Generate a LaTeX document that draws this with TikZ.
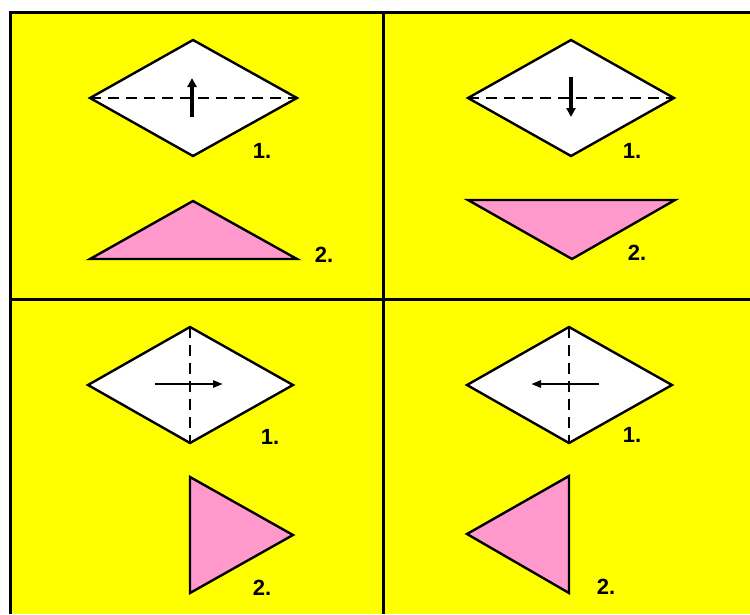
\documentclass[tikz,border=0pt]{standalone}
\usepackage{fontspec}
\setmainfont{Liberation Sans}
\usepackage{tikz}
\usetikzlibrary{arrows.meta}
\definecolor{bgyellow}{RGB}{255,255,0}
\definecolor{foldpink}{RGB}{255,153,204}
\tikzset{
frameline/.style={line width=3pt},
paper/.style={draw,fill=white,line width=2.4pt,line join=miter},
flap/.style={draw,fill=foldpink,line width=2.4pt,line join=miter},
foldline/.style={line width=2pt,dash pattern=on 11pt off 7pt},
bigarrow/.style={-{Triangle[length=9pt,width=9pt]},line width=3.8pt},
smallarrow/.style={-{Triangle[length=10pt,width=7pt]},line width=2.5pt},
steplabel/.style={font=\fontsize{22}{22}\selectfont\bfseries,inner sep=0pt}
}

\begin{document}
\begin{tikzpicture}[x=1pt,y=-1pt]
\useasboundingbox (0,0) rectangle (750,614);
% background and grid
\fill[bgyellow] (10,12) rectangle (750,614);
\draw[frameline] (750,12) -- (10,12) -- (10,614);
\draw[frameline] (383,12) -- (383,614);
\draw[frameline] (10,299) -- (750,299);

% top left: fold up
\coordinate (tlN) at (193,40);
\coordinate (tlW) at (90,98);
\coordinate (tlE) at (297,98);
\coordinate (tlS) at (193,156);
\draw[paper] (tlN) -- (tlE) -- (tlS) -- (tlW) -- cycle;
\draw[foldline] (tlW) -- (tlE);
\coordinate (tlA) at (192,117);
\coordinate (tlB) at (192,78);
\draw[bigarrow] (tlA) -- (tlB);
\node[steplabel] (tl1) at (262,151) {1.};
\draw[flap] (193,201) -- (297,259) -- (90,259) -- cycle;
\node[steplabel] (tl2) at (324,255) {2.};

% top right: fold down
\coordinate (trN) at (571,40);
\coordinate (trW) at (468,98);
\coordinate (trE) at (674,98);
\coordinate (trS) at (571,156);
\draw[paper] (trN) -- (trE) -- (trS) -- (trW) -- cycle;
\draw[foldline] (trW) -- (trE);
\coordinate (trA) at (571,77);
\coordinate (trB) at (571,117);
\draw[bigarrow] (trA) -- (trB);
\node[steplabel] (tr1) at (632,151) {1.};
\draw[flap] (468,200) -- (675,200) -- (572,259) -- cycle;
\node[steplabel] (tr2) at (637,253) {2.};

% bottom left: fold right
\coordinate (blN) at (190,327);
\coordinate (blW) at (88,385);
\coordinate (blE) at (293,385);
\coordinate (blS) at (190,443);
\draw[paper] (blN) -- (blE) -- (blS) -- (blW) -- cycle;
\draw[foldline] (blN) -- (blS);
\coordinate (blA) at (155,384);
\coordinate (blB) at (223,384);
\draw[smallarrow] (blA) -- (blB);
\node[steplabel] (bl1) at (270,437) {1.};
\draw[flap] (190,477) -- (293,535) -- (190,593) -- cycle;
\node[steplabel] (bl2) at (262,588) {2.};

% bottom right: fold left
\coordinate (brN) at (569,327);
\coordinate (brW) at (467,385);
\coordinate (brE) at (672,385);
\coordinate (brS) at (569,443);
\draw[paper] (brN) -- (brE) -- (brS) -- (brW) -- cycle;
\draw[foldline] (brN) -- (brS);
\coordinate (brA) at (599,384);
\coordinate (brB) at (531,384);
\draw[smallarrow] (brA) -- (brB);
\node[steplabel] (br1) at (632,435) {1.};
\draw[flap] (569,476) -- (569,593) -- (467,534) -- cycle;
\node[steplabel] (br2) at (606,587) {2.};
\end{tikzpicture}
\end{document}
